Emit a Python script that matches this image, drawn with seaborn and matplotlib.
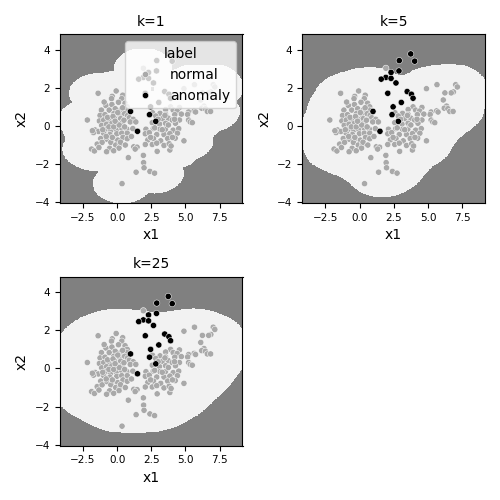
import numpy as np
import pandas as pd
import seaborn as sns
import matplotlib.pyplot as plt
from matplotlib.ticker import MultipleLocator

normal_x = [1.92, 5.66, 4.89, 7.03, 7.15, -1.39, -0.07, 6.86, 6.70, 6.24,
            -0.36, 0.41, -0.41, 0.34, 6.12, -0.82, -0.38, 0.10, 0.58, 0.74,
            0.72, 3.91, 4.56, 4.10, 6.36, 6.19, 6.46, -1.15, -0.58, -0.14,
            0.29, 3.55, 4.39, 5.23, 5.16, 5.64, 5.74, 6.60, 6.84, -1.25,
            -0.89, -0.24, 0.17, 0.55, 0.77, 2.59, 3.14, 3.55, 4.22, 4.70,
            -2.18, -1.30, -0.98, -0.58, -0.17, 0.26, 0.89, 1.18, 2.83, 3.31,
            3.74, 4.03, 4.56, 5.23, 5.35, 5.50, -1.13, -0.77, -0.38, 0.02,
            0.38, 0.96, 1.37, 2.57, 3.10, 3.55, 4.27, -1.61, -1.37, -0.82,
            -0.46, -0.07, 0.34, 0.72, 1.15, 2.11, 2.64, 3.14, 3.53, 4.10,
            4.51, -1.73, -0.98, -0.53, -0.02, 0.34, 0.74, 2.06, 2.35, 2.90,
            3.43, 3.86, 4.41, -1.20, -0.77, -0.29, 0.05, 0.43, 0.74, 2.25,
            2.66, 3.19, 3.70, 4.25, 4.89, -1.46, -1.10, -0.46, -0.10, 0.22,
            1.22, 1.46, 2.06, 2.57, 3.43, 3.81, -1.87, -1.66, -0.55, 0.14,
            1.32, 2.93, 3.86, -0.77, 0.82, 1.92, 1.94, 1.39, 1.97, 2.40,
            2.74, 0.36, -0.70, -0.30, 0.05, 0.50, -0.60, -0.25, 0.15, 0.55,
            -0.80, -0.35, 0.25, 0.60, -1.05, -0.15, 0.40, -0.95, 1.05, -1.81,
            -1.33, -0.25, 2.75, 3.30, 3.00, 3.75, 2.45, 4.05, 3.50, 2.90,
            4.20, 3.95]
normal_y = [3.02, 2.16, 1.95, 2.16, 2.04, 1.71, 1.83, 1.78, 1.73, 1.73,
            1.55, 1.61, 1.43, 1.43, 1.36, 1.07, 1.12, 1.24, 1.19, 1.00,
            0.83, 1.00, 0.97, 0.83, 1.04, 0.93, 0.90, 0.83, 0.83, 0.90,
            0.85, 0.86, 0.78, 0.73, 0.60, 0.79, 0.73, 0.76, 0.76, 0.55,
            0.59, 0.64, 0.60, 0.64, 0.55, 0.69, 0.66, 0.60, 0.59, 0.62,
            0.31, 0.26, 0.31, 0.29, 0.38, 0.38, 0.43, 0.35, 0.52, 0.38,
            0.41, 0.31, 0.31, 0.31, 0.21, 0.17, 0.03, 0.09, 0.14, 0.12,
            0.17, 0.21, 0.21, 0.17, 0.10, 0.14, 0.14, -0.21, -0.29, -0.17,
            -0.24, -0.19, -0.12, -0.17, -0.14, -0.17, -0.14, -0.17, -0.17, -0.22,
            -0.14, -0.35, -0.38, -0.45, -0.41, -0.38, -0.38, -0.41, -0.35, -0.45,
            -0.45, -0.40, -0.38, -0.66, -0.69, -0.66, -0.74, -0.60, -0.67, -0.73,
            -0.66, -0.78, -0.66, -0.64, -0.78, -0.95, -0.86, -0.86, -1.00, -0.95,
            -1.09, -1.11, -0.97, -0.97, -1.02, -0.93, -1.21, -1.31, -1.17, -1.16,
            -1.21, -1.33, -1.26, -1.35, -1.66, -1.54, -1.92, -2.42, -2.19, -2.38,
            -2.47, -3.02, 0.45, 0.50, 0.70, 0.30, -0.05, -0.05, 0.05, -0.05,
            -0.55, -0.60, -0.85, -1.00, -0.20, 0.25, 0.95, 1.25, -0.55, -0.25,
            -1.13, -1.30, -0.10, -0.20, 0.35, 0.05, -0.60, -0.60, 0.55, -0.90,
            0.35, -1.05]

# anomalies
anomaly_x = [3.74, 4.03, 2.90, 2.88, 2.30, 1.92, 1.58, 2.30, 2.66, 2.06,
             3.48, 3.79, 3.91, 3.05, 0.98, 2.45, 2.37, 2.83, 1.49]
anomaly_y = [3.77, 3.39, 3.42, 2.88, 2.80, 2.54, 2.45, 2.49, 2.25, 1.71,
             1.80, 1.66, 1.45, 1.23, 0.76, 1.00, 0.59, 0.24, -0.28]

k_values = [1, 5, 25]
thresholds = [0.95, 1.17, 1.82]   # mean kNN distance, standardised units

df = pd.DataFrame({
    'x1': normal_x + anomaly_x,
    'x2': normal_y + anomaly_y,
    'label': ['normal'] * len(normal_x) + ['anomaly'] * len(anomaly_x),
})

# standardise features before the kNN distances
mu = df[['x1', 'x2']].mean().values
sd = df[['x1', 'x2']].std().values
Z = (df[['x1', 'x2']].values - mu) / sd
train = Z[:len(normal_x)]

zx = np.linspace(Z[:, 0].min() - 0.88, Z[:, 0].max() + 0.88, 260)
zy = np.linspace(Z[:, 1].min() - 0.9, Z[:, 1].max() + 0.9, 180)
gx, gy = np.meshgrid(zx, zy)
grid = np.column_stack([gx.ravel(), gy.ravel()])
dist = np.sqrt(((grid[:, None, :] - train[None, :, :]) ** 2).sum(axis=2))
dist.sort(axis=1)
xx = gx * sd[0] + mu[0]
yy = gy * sd[1] + mu[1]

fig, axes = plt.subplots(2, 2, figsize=(5, 5), dpi=100)
axes = axes.ravel()

for i, (k, thr) in enumerate(zip(k_values, thresholds)):
    ax = axes[i]
    score = dist[:, :k].mean(axis=1)
    outside = (score > thr).reshape(xx.shape).astype(int)
    ax.contourf(xx, yy, outside, levels=[-0.5, 0.5, 1.5], colors=['#f2f2f2', '#808080'])
    sns.scatterplot(data=df, x='x1', y='x2', hue='label',
                    palette={'normal': 'darkgray', 'anomaly': 'black'},
                    s=20, ax=ax, legend=(i == 0))
    ax.set_title(f'k={k}', fontsize=10)
    ax.set_xlabel('x1', fontsize=10)
    ax.set_ylabel('x2', fontsize=10)
    ax.tick_params(labelsize=7.5)
    ax.xaxis.set_major_locator(MultipleLocator(2.5))
    ax.set_xlim(xx.min(), xx.max())
    ax.set_ylim(yy.min(), yy.max())
    if i == 0:
        ax.legend(title='label', loc='upper right')

axes[3].axis('off')

plt.tight_layout()
plt.savefig('out.png')
